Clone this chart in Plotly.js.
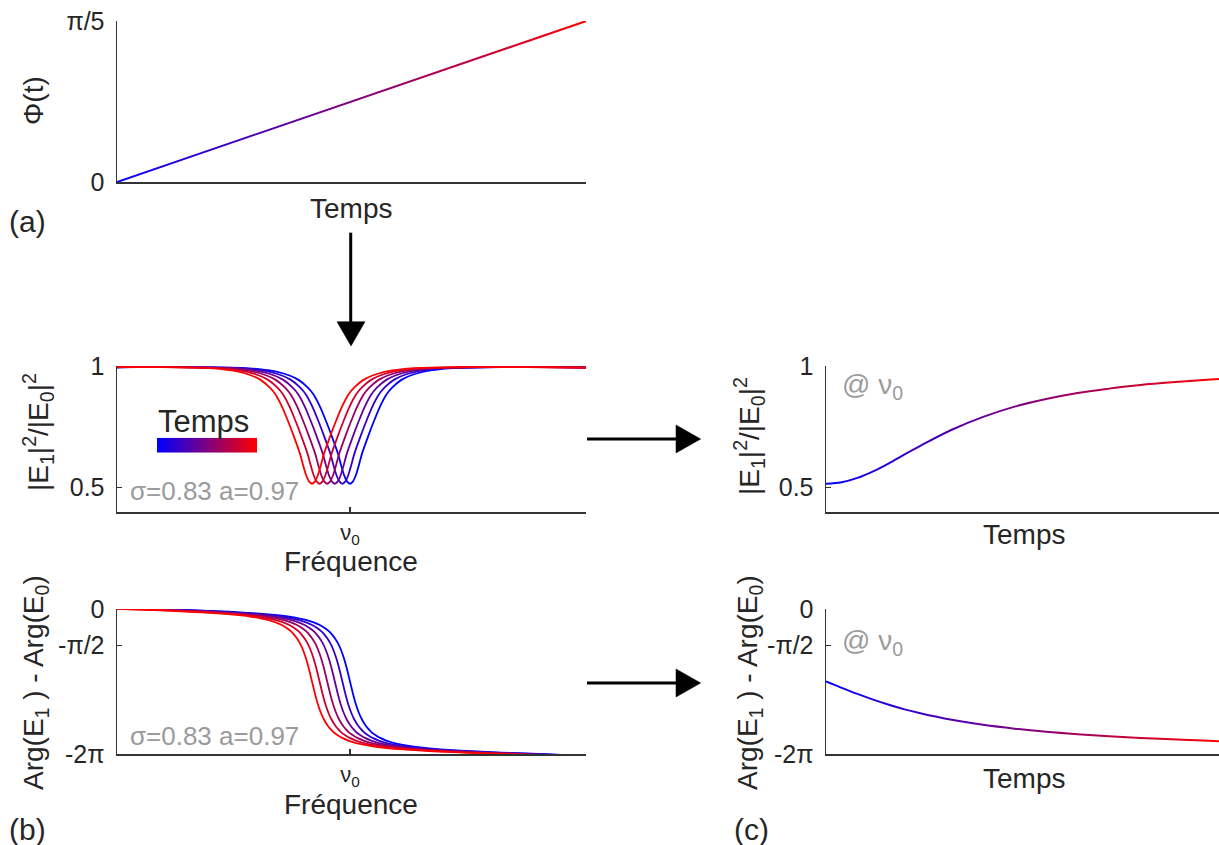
<!DOCTYPE html>
<html><head><meta charset="utf-8">
<script src="https://cdn.plot.ly/plotly-3.0.1.min.js"></script>
<style>html,body{margin:0;padding:0;background:#fff}#chart{width:1219px;height:845px}</style>
</head><body><div id="chart"></div>
<script>
const PI = Math.PI;
// ---- Panel (a): phase vs time ----
const timeA = [0, 0.25, 0.5, 0.75, 1];
const phiA  = [0, 0.157, 0.314, 0.471, 0.628];
const ticksA = {vals: [0, PI/5], text: ['0', 'π/5']};

// ---- Panel (b): one resonance profile vs detuning (rad) ----
const magDetuning = [-4.6,-3.5,-2.5,-1.8,-1.5,-1.2,-1.0,-0.85,-0.7,-0.6,-0.5,-0.4,-0.3,-0.2,-0.15,-0.1,-0.05,
  0, 0.05,0.1,0.15,0.2,0.3,0.4,0.5,0.6,0.7,0.85,1.0,1.2,1.5,1.8,2.5,3.5,4.6];
const transmission = [0.993,0.995,0.995,0.992,0.987,0.976,0.961,0.943,0.912,0.882,0.835,0.776,0.711,0.641,0.595,0.553,0.526,
  0.516, 0.526,0.553,0.595,0.641,0.711,0.776,0.835,0.882,0.912,0.943,0.961,0.976,0.987,0.992,0.995,0.995,0.993];
const phaseDetuning = [-4.6,-3.5,-3.0,-2.5,-2.0,-1.5,-1.2,-1.0,-0.85,-0.7,-0.6,-0.5,-0.45,-0.4,-0.35,-0.3,-0.25,-0.2,-0.15,-0.1,-0.05,
  0, 0.05,0.1,0.15,0.2,0.25,0.3,0.35,0.4,0.45,0.5,0.6,0.7,0.85,1.0,1.2,1.5,2.0,2.5,3.0,3.5,4.6];
const phaseDiff = [0.166,0.034,-0.013,-0.062,-0.119,-0.198,-0.270,-0.336,-0.405,-0.497,-0.582,-0.696,-0.768,-0.856,-0.962,-1.096,-1.264,-1.482,-1.766,-2.136,-2.603,
  -3.142, -3.680,-4.147,-4.518,-4.801,-5.019,-5.187,-5.321,-5.427,-5.515,-5.587,-5.701,-5.786,-5.878,-5.947,-6.013,-6.085,-6.164,-6.222,-6.270,-6.317,-6.449];
const curveShifts = [0, -0.126, -0.251, -0.377, -0.503, -0.628];
const curveColors = ['rgb(0,0,255)','rgb(51,0,204)','rgb(102,0,153)','rgb(153,0,102)','rgb(204,0,51)','rgb(255,0,0)'];
const ticksBmag = {vals: [0.5, 1], text: ['0.5', '1']};
const ticksPhase = {vals: [-2*PI, -PI/2, 0], text: ['-2π', '-π/2', '0']};
const ticksFreq = {vals: [0], text: ['ν<sub>0</sub>']};

// ---- Panel (c): values at nu0 vs time ----
const timeC  = [0, 0.04, 0.08, 0.12, 0.16, 0.20, 0.24, 0.32, 0.40, 0.48, 0.56, 0.64, 0.72, 0.80, 0.88, 0.96, 1.0];
const transC = [0.516,0.522,0.540,0.567,0.600,0.637,0.672,0.738,0.791,0.833,0.864,0.889,0.907,0.922,0.933,0.942,0.947];
const phaseC = [-3.142,-3.416,-3.680,-3.926,-4.147,-4.350,-4.518,-4.801,-5.019,-5.187,-5.321,-5.427,-5.515,-5.587,-5.649,-5.701,-5.727];

// ---- layout helpers ----
const W = 1219, H = 845;
const px = x => x / W, py = y => 1 - y / H;
const FONT = 'Liberation Sans, Arial, Helvetica, sans-serif';
const INK = '#262626';
const GRAD = 'rgb(128,0,129)';

function axisBase(extra) {
  return Object.assign({
    showline: true, linecolor: '#333', linewidth: 1.5, mirror: false,
    showgrid: false, zeroline: false, fixedrange: true,
    ticks: 'inside', ticklen: 5, tickwidth: 1.5, tickcolor: '#333',
    tickfont: {family: FONT, size: 25, color: INK}
  }, extra);
}

const data = [];
data.push({x: timeA, y: phiA, xaxis: 'x', yaxis: 'y', mode: 'lines', line: {color: GRAD, width: 2}, hoverinfo: 'skip'});
curveShifts.forEach((s, i) => {
  data.push({x: magDetuning.map(d => d + s), y: transmission, xaxis: 'x2', yaxis: 'y2', mode: 'lines',
    line: {color: curveColors[i], width: 1.8, shape: 'spline', smoothing: 0.6}, hoverinfo: 'skip'});
});
curveShifts.forEach((s, i) => {
  data.push({x: phaseDetuning.map(d => d + s), y: phaseDiff, xaxis: 'x3', yaxis: 'y3', mode: 'lines',
    line: {color: curveColors[i], width: 1.8, shape: 'spline', smoothing: 0.6}, hoverinfo: 'skip'});
});
data.push({x: timeC, y: transC, xaxis: 'x4', yaxis: 'y4', mode: 'lines', line: {color: GRAD, width: 2, shape: 'spline'}, hoverinfo: 'skip'});
data.push({x: timeC, y: phaseC, xaxis: 'x5', yaxis: 'y5', mode: 'lines', line: {color: GRAD, width: 2, shape: 'spline'}, hoverinfo: 'skip'});
// colour ramp legend "Temps"
data.push({type: 'heatmap', z: [[0, 1], [0, 1]], x: [0, 1], y: [0, 1], xaxis: 'x6', yaxis: 'y6',
  colorscale: [[0, 'rgb(0,0,255)'], [1, 'rgb(255,0,0)']], zsmooth: 'best', showscale: false, hoverinfo: 'skip'});

const freqRange = [-3.851, 3.901];
const nuFont = {family: FONT, size: 22, color: INK};
const layout = {
  width: W, height: H, margin: {l: 0, r: 0, t: 0, b: 0},
  paper_bgcolor: '#fff', plot_bgcolor: 'rgba(0,0,0,0)', showlegend: false,
  font: {family: FONT, color: INK},
  xaxis: axisBase({domain: [px(117), px(586)], range: [0, 1], anchor: 'y', ticks: '', showticklabels: false}),
  yaxis: axisBase({domain: [py(182), py(21)], range: [0, PI/5], anchor: 'x', tickvals: ticksA.vals, ticktext: ticksA.text, ticklabelstandoff: 6}),
  xaxis2: axisBase({domain: [px(117), px(586)], range: freqRange, anchor: 'y2', tickvals: ticksFreq.vals, ticktext: ticksFreq.text, ticklabelstandoff: 0, tickfont: nuFont}),
  yaxis2: axisBase({domain: [py(512), py(366)], range: [0.4, 1], anchor: 'x2', tickvals: ticksBmag.vals, ticktext: ticksBmag.text, ticklabelstandoff: 6}),
  xaxis3: axisBase({domain: [px(117), px(586)], range: freqRange, anchor: 'y3', tickvals: ticksFreq.vals, ticktext: ticksFreq.text, ticklabelstandoff: 0, tickfont: nuFont}),
  yaxis3: axisBase({domain: [py(754), py(609)], range: [-2*PI, 0], anchor: 'x3', tickvals: ticksPhase.vals, ticktext: ticksPhase.text, ticklabelstandoff: 6}),
  xaxis4: axisBase({domain: [px(826), 1], range: [0, 1], anchor: 'y4', ticks: '', showticklabels: false}),
  yaxis4: axisBase({domain: [py(512), py(366)], range: [0.4, 1], anchor: 'x4', tickvals: ticksBmag.vals, ticktext: ticksBmag.text, ticklabelstandoff: 6}),
  xaxis5: axisBase({domain: [px(826), 1], range: [0, 1], anchor: 'y5', ticks: '', showticklabels: false}),
  yaxis5: axisBase({domain: [py(754), py(609)], range: [-2*PI, 0], anchor: 'x5', tickvals: ticksPhase.vals, ticktext: ticksPhase.text, ticklabelstandoff: 6}),
  xaxis6: {domain: [px(157), px(257)], range: [0, 1], anchor: 'y6', visible: false, fixedrange: true},
  yaxis6: {domain: [py(452.7), py(437.7)], range: [0, 1], anchor: 'x6', visible: false, fixedrange: true},
  annotations: [],
  shapes: []
};

function note(text, x, y, opts) {
  layout.annotations.push(Object.assign({text, x: px(x), y: py(y), xref: 'paper', yref: 'paper',
    showarrow: false, xanchor: 'center', yanchor: 'middle', font: {family: FONT, size: 28, color: INK}}, opts || {}));
}
// axis titles
note('Temps', 351, 208);
note('Fréquence', 351, 561);
note('Fréquence', 351, 804);
note('Temps', 1024, 534);
note('Temps', 1024, 778);
note('Φ(t)', 33, 101, {textangle: -90});
note('|E<sub>1</sub>|<sup>2</sup>/|E<sub>0</sub>|<sup>2</sup>', 38, 432, {textangle: -90});
note('Arg(E<sub>1</sub> ) - Arg(E<sub>0</sub>)', 35, 683, {textangle: -90});
note('|E<sub>1</sub>|<sup>2</sup>/|E<sub>0</sub>|<sup>2</sup>', 749, 436, {textangle: -90});
note('Arg(E<sub>1</sub> ) - Arg(E<sub>0</sub>)', 749, 683, {textangle: -90});
// panel letters
note('(a)', 27, 222, {font: {family: FONT, size: 30, color: INK}});
note('(b)', 27, 829, {font: {family: FONT, size: 30, color: INK}});
note('(c)', 751, 829, {font: {family: FONT, size: 30, color: INK}});
// grey notes
const GREY = '#9b9b9b';
note('σ=0.83 a=0.97', 128, 491, {xanchor: 'left', font: {family: FONT, size: 26, color: GREY}});
note('σ=0.83 a=0.97', 128, 736, {xanchor: 'left', font: {family: FONT, size: 26, color: GREY}});
note('@ ν<sub>0</sub>', 840, 386, {xanchor: 'left', font: {family: FONT, size: 28, color: GREY}});
note('@ ν<sub>0</sub>', 840, 642, {xanchor: 'left', font: {family: FONT, size: 28, color: GREY}});
note('Temps', 204, 421, {font: {family: FONT, size: 31, color: INK}});

// arrows
function line(x0, y0, x1, y1) {
  layout.shapes.push({type: 'line', xref: 'paper', yref: 'paper', x0: px(x0), y0: py(y0), x1: px(x1), y1: py(y1),
    line: {color: '#000', width: 3}});
}
function tri(pts) {
  const d = 'M ' + pts.map(p => px(p[0]) + ',' + py(p[1])).join(' L ') + ' Z';
  layout.shapes.push({type: 'path', xref: 'paper', yref: 'paper', path: d, fillcolor: '#000', line: {color: '#000', width: 0.5}});
}
line(350.7, 232.7, 350.7, 323);
tri([[337, 321.7], [365, 321.7], [351, 346]]);
line(587, 439, 677, 439);
tri([[676, 425], [676, 453], [700.7, 439]]);
line(587, 683, 677, 683);
tri([[676, 669], [676, 697], [700.7, 683]]);

const gd = document.getElementById('chart');
Plotly.newPlot(gd, data, layout, {staticPlot: true, displayModeBar: false}).then(() => {
  const ns = 'http://www.w3.org/2000/svg';
  const svg = gd.querySelector('svg.main-svg');
  let defs = svg.querySelector('defs');
  if (!defs) { defs = document.createElementNS(ns, 'defs'); svg.insertBefore(defs, svg.firstChild); }
  const lg = document.createElementNS(ns, 'linearGradient');
  lg.setAttribute('id', 'timegrad');
  lg.setAttribute('x1', '0'); lg.setAttribute('y1', '0'); lg.setAttribute('x2', '1'); lg.setAttribute('y2', '0');
  [['0', 'rgb(0,0,255)'], ['1', 'rgb(255,0,0)']].forEach(([o, c]) => {
    const st = document.createElementNS(ns, 'stop');
    st.setAttribute('offset', o); st.setAttribute('stop-color', c);
    lg.appendChild(st);
  });
  defs.appendChild(lg);
  gd.querySelectorAll('path.js-line').forEach(p => {
    if ((p.style.stroke || '').replace(/\s/g, '') === GRAD) p.style.stroke = 'url(#timegrad)';
  });
});
</script>
</body></html>
